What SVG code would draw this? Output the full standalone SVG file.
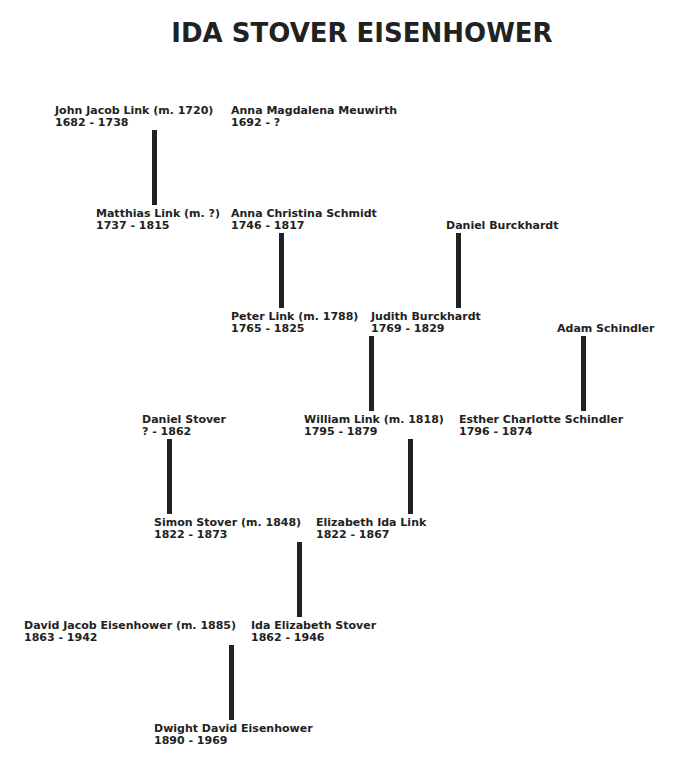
<svg xmlns="http://www.w3.org/2000/svg" width="680" height="770" viewBox="0 0 680 770">
<style>
text{font-family:"DejaVu Sans",Verdana,sans-serif;font-weight:bold;font-size:11px;fill:#222}
.t{font-size:26px;fill:#222}
rect{fill:#222}
</style>
<rect x="0" y="0" width="680" height="770" style="fill:#fff"/>
<text class="t" x="362" y="42" text-anchor="middle">IDA STOVER EISENHOWER</text>
<g id="connectors">
<rect x="152" y="130" width="5" height="75"/>
<rect x="279" y="233" width="5" height="75"/>
<rect x="456" y="233" width="5" height="75"/>
<rect x="369" y="336" width="5" height="75"/>
<rect x="581" y="336" width="5" height="75"/>
<rect x="167" y="439" width="5" height="75"/>
<rect x="408" y="439" width="5" height="75"/>
<rect x="297" y="542" width="5" height="75"/>
<rect x="229" y="645" width="5" height="75"/>
</g>
<g id="n1"><text x="55" y="114">John Jacob Link  (m. 1720)</text><text x="55" y="126">1682 - 1738</text></g>
<g id="n2"><text x="231" y="114">Anna Magdalena Meuwirth</text><text x="231" y="126">1692 - ?</text></g>
<g id="n3"><text x="96" y="217">Matthias Link  (m. ?)</text><text x="96" y="229">1737 - 1815</text></g>
<g id="n4"><text x="231" y="217">Anna Christina Schmidt</text><text x="231" y="229">1746 - 1817</text></g>
<g id="n5"><text x="446" y="229">Daniel Burckhardt</text></g>
<g id="n6"><text x="231" y="320">Peter Link  (m. 1788)</text><text x="231" y="332">1765 - 1825</text></g>
<g id="n7"><text x="371" y="320">Judith Burckhardt</text><text x="371" y="332">1769 - 1829</text></g>
<g id="n8"><text x="557" y="332">Adam Schindler</text></g>
<g id="n9"><text x="142" y="423">Daniel Stover</text><text x="142" y="435">? - 1862</text></g>
<g id="n10"><text x="304" y="423">William Link  (m. 1818)</text><text x="304" y="435">1795 - 1879</text></g>
<g id="n11"><text x="459" y="423">Esther Charlotte Schindler</text><text x="459" y="435">1796 - 1874</text></g>
<g id="n12"><text x="154" y="526">Simon Stover  (m. 1848)</text><text x="154" y="538">1822 - 1873</text></g>
<g id="n13"><text x="316" y="526">Elizabeth Ida Link</text><text x="316" y="538">1822 - 1867</text></g>
<g id="n14"><text x="24" y="629">David Jacob Eisenhower  (m. 1885)</text><text x="24" y="641">1863 - 1942</text></g>
<g id="n15"><text x="251" y="629">Ida Elizabeth Stover</text><text x="251" y="641">1862 - 1946</text></g>
<g id="n16"><text x="154" y="732">Dwight David Eisenhower</text><text x="154" y="744">1890 - 1969</text></g>
</svg>
